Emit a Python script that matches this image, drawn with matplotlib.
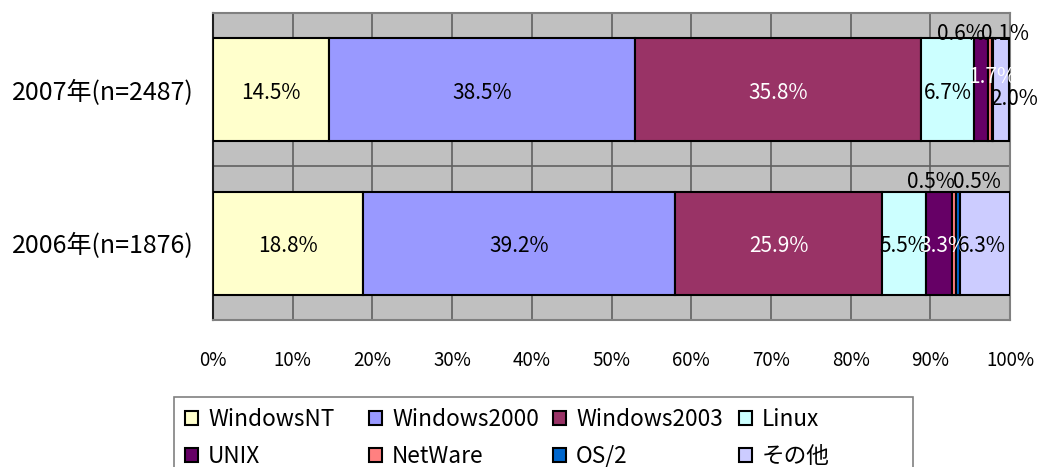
import matplotlib
matplotlib.use("Agg")
import matplotlib.pyplot as plt
from matplotlib.patches import Rectangle

plt.rcParams['font.family'] = ['Noto Sans CJK JP', 'DejaVu Sans']

categories = ["2006年(n=1876)", "2007年(n=2487)"]
series = ["WindowsNT", "Windows2000", "Windows2003", "Linux", "UNIX", "NetWare", "OS/2", "その他"]
values_2006 = [18.8, 39.2, 25.9, 5.5, 3.3, 0.5, 0.5, 6.3]
values_2007 = [14.5, 38.5, 35.8, 6.7, 1.7, 0.6, 0.1, 2.0]
xticks = [0, 10, 20, 30, 40, 50, 60, 70, 80, 90, 100]

colors = ["#FFFFCC", "#9999FF", "#993366", "#CCFFFF", "#660066", "#FF8080", "#0066CC", "#CCCCFF"]
label_colors = ["black", "black", "white", "black", "white", "black", "black", "black"]
# label offsets in pixels (dx, dy) per category row, per series
offsets = {
    0: [(0, 0), (0, 0), (0, 0), (0, 0), (5, 0), (-23, 64), (19, 64), (-3, 0)],
    1: [(0, 0), (0, 0), (0, 0), (0, 0), (11, 16), (-29, 59), (12, 59), (13, -6)],
}

W, H = 1037, 467
fig = plt.figure(figsize=(W/100, H/100), dpi=100)
ax = fig.add_axes([213/W, 1-320/H, 797/W, 307/H])
ax.set_facecolor("#C0C0C0")

data = [values_2006, values_2007]
for ci, vals in enumerate(data):
    left = 0
    for si, v in enumerate(vals):
        ax.barh(ci, v, left=left, height=0.67, color=colors[si], edgecolor="black",
                linewidth=1.5, zorder=3)
        dx, dy = offsets[ci][si]
        ax.annotate(f"{v:.1f}%", (left + v/2, ci), xytext=(dx, dy - 3), textcoords="offset pixels",
                    ha="center", va="center", fontsize=15, color=label_colors[si], zorder=5,
                    annotation_clip=False)
        left += v

ax.set_xlim(0, 100)
ax.set_ylim(-0.5, 1.5)
ax.set_xticks(xticks)
ax.set_xticklabels([f"{t}%" for t in xticks], fontsize=13.5)
ax.set_yticks([0, 1])
ax.set_yticklabels(categories, fontsize=18)
ax.tick_params(axis="x", length=0, pad=21.5)
ax.tick_params(axis="y", length=0, pad=14)
for t in xticks[1:-1]:
    ax.axvline(t, color="#606060", linewidth=1.2, zorder=1)
ax.axhline(0.5, color="#606060", linewidth=1.2, zorder=1)
for s in ["top", "right", "bottom"]:
    ax.spines[s].set_color("#808080")
    ax.spines[s].set_linewidth(1.5)
ax.spines["left"].set_color("#202020")
ax.spines["left"].set_linewidth(1.5)

# legend frame
fig.patches.append(Rectangle((174/W, -0.1), (913-174)/W, 0.1 + (1-397/H), transform=fig.transFigure,
                             facecolor="white", edgecolor="#808080", linewidth=1.2, zorder=0))
col_x = [185, 369, 553, 739]
for k in range(4):
    idx = [k, k+4]
    handles = [Rectangle((0, 0), 1, 1, facecolor=colors[i], edgecolor="black", linewidth=1.5) for i in idx]
    leg = fig.legend(handles, [series[i] for i in idx], loc="upper left",
                     bbox_to_anchor=(col_x[k]/W, 1-408/H), ncol=1, fontsize=16.3, frameon=False,
                     handlelength=0.575, handleheight=0.575, handletextpad=0.44,
                     borderpad=0, labelspacing=0.6, borderaxespad=0)

fig.savefig("out.png", dpi=100)
